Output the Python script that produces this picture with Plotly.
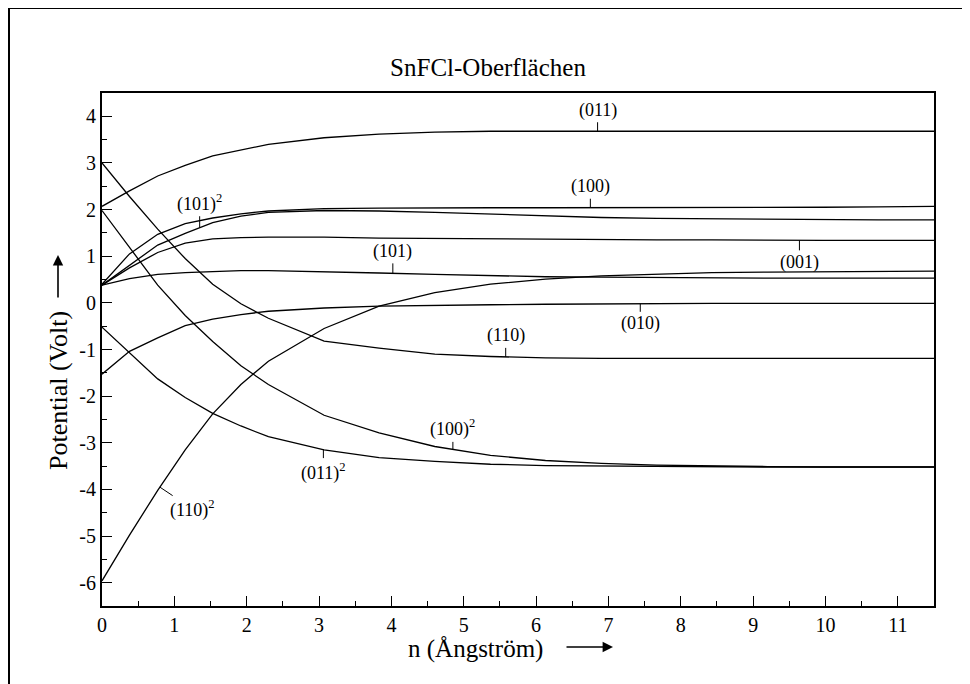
import numpy as np
import plotly.graph_objects as go

# ---- data ----
x_n = [0, 0.38, 0.77, 1.15, 1.53, 1.92, 2.3, 3.07, 3.83, 4.6, 5.37, 6.13,
       6.9, 7.67, 8.43, 9.2, 9.97, 10.73, 11.5]

s_011 = [2.07, 2.40, 2.72, 2.95, 3.15, 3.28, 3.40, 3.54, 3.62, 3.66, 3.68, 3.68,
         3.68, 3.68, 3.68, 3.68, 3.68, 3.68, 3.68]
s_100 = [0.40, 1.05, 1.47, 1.70, 1.82, 1.91, 1.97, 2.02, 2.03, 2.04, 2.04, 2.04,
         2.04, 2.04, 2.04, 2.05, 2.05, 2.06, 2.07]
s_101_2 = [0.38, 0.80, 1.24, 1.49, 1.72, 1.86, 1.94, 1.98, 1.97, 1.94, 1.90, 1.86,
           1.83, 1.81, 1.80, 1.79, 1.79, 1.78, 1.78]
s_001 = [0.38, 0.75, 1.08, 1.28, 1.37, 1.40, 1.41, 1.41, 1.39, 1.38, 1.37, 1.36,
         1.35, 1.35, 1.35, 1.34, 1.34, 1.34, 1.34]
s_101 = [0.38, 0.52, 0.61, 0.65, 0.67, 0.69, 0.69, 0.67, 0.64, 0.61, 0.58, 0.56,
         0.55, 0.54, 0.54, 0.53, 0.53, 0.53, 0.53]
s_110_2 = [-5.96, -4.98, -4.02, -3.15, -2.38, -1.75, -1.25, -0.55, -0.07, 0.22, 0.40, 0.51,
           0.58, 0.62, 0.65, 0.66, 0.67, 0.67, 0.68]
s_010 = [-1.53, -1.04, -0.75, -0.49, -0.35, -0.25, -0.18, -0.11, -0.07, -0.05, -0.04, -0.03,
         -0.02, -0.02, -0.01, -0.01, -0.01, -0.01, -0.01]
s_110 = [3.00, 2.28, 1.58, 0.95, 0.40, -0.02, -0.33, -0.82, -0.97, -1.10, -1.15, -1.18,
         -1.19, -1.19, -1.19, -1.19, -1.19, -1.19, -1.19]
s_100_2 = [1.98, 1.18, 0.38, -0.27, -0.83, -1.35, -1.75, -2.41, -2.79, -3.08, -3.27, -3.38,
           -3.44, -3.48, -3.50, -3.51, -3.52, -3.52, -3.52]
s_011_2 = [-0.52, -1.07, -1.63, -2.03, -2.37, -2.64, -2.87, -3.15, -3.32, -3.40, -3.46, -3.49,
           -3.50, -3.51, -3.51, -3.52, -3.52, -3.52, -3.52]

series = [s_011, s_100, s_101_2, s_001, s_101, s_110_2, s_010, s_110, s_100_2, s_011_2]
names = ["(011)", "(100)", "(101)<sup>2</sup>", "(001)", "(101)", "(110)<sup>2</sup>",
         "(010)", "(110)", "(100)<sup>2</sup>", "(011)<sup>2</sup>"]
label_x = [6.85, 6.75, 1.35, 9.64, 4.02, 0.80, 7.44, 5.58, 4.85, 3.06]

x_tickvals = list(range(0, 12))
x_ticktext = [str(v) for v in x_tickvals]
y_tickvals = list(range(-6, 5))
y_ticktext = [str(v) for v in y_tickvals]

FONT = "Liberation Serif, Times New Roman, serif"

W, H = 970, 684
ML, MR, MT, MB = 94, 44, 85, 86
PW, PH = W - ML - MR, H - MT - MB

fig = go.Figure()
for s, nm in zip(series, names):
    fig.add_trace(go.Scatter(x=x_n, y=s, mode="lines", name=nm,
                             line=dict(color="black", width=1.3),
                             showlegend=False, hoverinfo="skip"))

# label offsets (pixels) from curve anchor to label centre
label_off = [(0, -21), (0, -21), (0, -25), (0, 22), (0, -22), (33, 22),
             (0, 20), (0, -21), (0, -21), (0, 22)]
for s, nm, lx, (dx, dy) in zip(series, names, label_x, label_off):
    ly = float(np.interp(lx, x_n, s))
    fig.add_annotation(x=lx, y=ly, xref="x", yref="y", text=nm,
                       showarrow=True, arrowhead=0, arrowwidth=1, arrowcolor="black",
                       ax=dx, ay=dy, standoff=0,
                       font=dict(family=FONT, size=18, color="black"))


def px_x(p):  # figure pixel -> paper x
    return (p - ML) / PW


def px_y(p):  # figure pixel -> paper y
    return (H - MB - p) / PH


# axis titles with arrows (positions in figure pixels)
fig.add_annotation(x=px_x(467), y=px_y(641), xref="paper", yref="paper",
                   xanchor="center", yanchor="middle",
                   text="n (Ångström)", showarrow=False,
                   font=dict(family=FONT, size=25, color="black"))
fig.add_annotation(x=px_x(605), y=px_y(639), xref="paper", yref="paper", text="",
                   showarrow=True, arrowhead=2, arrowsize=1.3, arrowwidth=1.6,
                   arrowcolor="black", ax=-48, ay=0)
fig.add_annotation(x=px_x(50), y=px_y(383), xref="paper", yref="paper",
                   xanchor="center", yanchor="middle",
                   text="Potential (Volt)", showarrow=False, textangle=-90,
                   font=dict(family=FONT, size=26, color="black"))
fig.add_annotation(x=px_x(50), y=px_y(247), xref="paper", yref="paper", text="",
                   showarrow=True, arrowhead=2, arrowsize=1.3, arrowwidth=1.6,
                   arrowcolor="black", ax=0, ay=44)

# outer frame (figure border)
fig.add_shape(type="rect", xref="paper", yref="paper",
              x0=px_x(1), x1=px_x(W + 4), y0=px_y(H + 4), y1=px_y(0),
              line=dict(color="black", width=2), layer="below")

axis_common = dict(showgrid=False, zeroline=False, showline=True, mirror=True,
                   linecolor="black", linewidth=2, ticks="inside", ticklen=10,
                   tickwidth=1.3, tickcolor="black",
                   tickfont=dict(family=FONT, size=20, color="black"))

fig.update_xaxes(range=[0, 11.5], tickvals=x_tickvals, ticktext=x_ticktext,
                 minor=dict(dtick=0.5, ticks="inside", ticklen=5, tickwidth=1.2,
                            tickcolor="black", showgrid=False),
                 **axis_common)
fig.update_yaxes(range=[-6.5, 4.5], tickvals=y_tickvals, ticktext=y_ticktext,
                 minor=dict(dtick=0.5, ticks="inside", ticklen=5, tickwidth=1.2,
                            tickcolor="black", showgrid=False),
                 **axis_common)

fig.update_layout(
    width=W, height=H,
    margin=dict(l=ML, r=MR, t=MT, b=MB, autoexpand=False),
    paper_bgcolor="white", plot_bgcolor="white",
    title=dict(text="SnFCl-Oberflächen", x=480 / W, xref="container", xanchor="center",
               y=1 - 59 / H, yref="container", yanchor="middle",
               font=dict(family=FONT, size=25, color="black")),
)

fig.write_html("out.html")
